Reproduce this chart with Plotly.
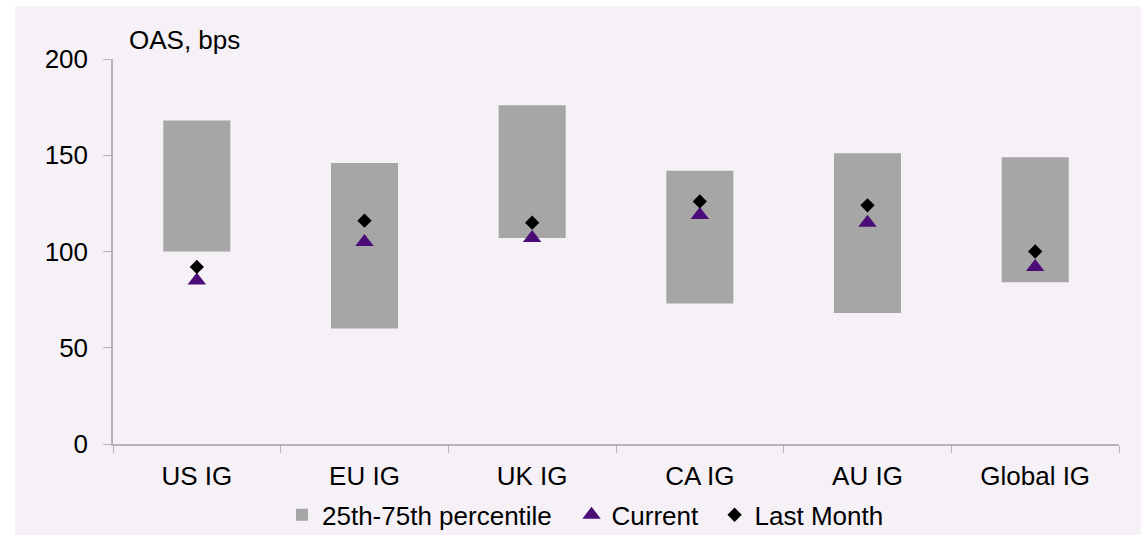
import plotly.graph_objects as go

# Investment-grade credit spreads by region (OAS, bps)
categories = ["US IG", "EU IG", "UK IG", "CA IG", "AU IG", "Global IG"]
pct25 = [100, 60, 107, 73, 68, 84]
pct75 = [168, 146, 176, 142, 151, 149]
current = [85, 105, 107, 119, 115, 92]
last_month = [92, 116, 115, 126, 124, 100]

y_ticks = [0, 50, 100, 150, 200]

FONT = "Liberation Sans, Arial, sans-serif"
FS = 26
PANEL = "#f5f1f7"
AXIS = "#b4b4b4"

fig = go.Figure()

# Floating bar spanning the interquartile range
fig.add_trace(go.Bar(
    x=categories,
    base=pct25,
    y=[hi - lo for lo, hi in zip(pct25, pct75)],
    width=0.4,
    marker=dict(color="#a6a6a6", line=dict(width=0)),
    name="25th-75th percentile",
    legend="legend",
    hoverinfo="skip",
))

fig.add_trace(go.Scatter(
    x=categories, y=current, mode="markers",
    marker=dict(symbol="triangle-up", size=16, color="#4b0c78"),
    name="Current",
    legend="legend2",
))

fig.add_trace(go.Scatter(
    x=categories, y=last_month, mode="markers",
    marker=dict(symbol="diamond", size=11, color="#000000"),
    name="Last Month",
    legend="legend3",
))

# Lavender panel behind the chart, leaving a thin white edge at left and top
fig.add_shape(
    type="rect", xref="paper", yref="paper",
    x0=-0.0974, x1=1.0219, y0=-0.2364, y1=1.1377,
    fillcolor=PANEL, line=dict(width=0), layer="below",
)

fig.add_annotation(
    text="OAS, bps", xref="paper", yref="paper",
    x=0.0139, y=1.049, xanchor="left", yanchor="middle",
    showarrow=False, font=dict(family=FONT, size=FS, color="#000000"),
)

legend_common = dict(
    orientation="h", y=-0.184, yanchor="middle", xanchor="left",
    bgcolor="rgba(0,0,0,0)", font=dict(family=FONT, size=FS, color="#000000"),
    itemwidth=30,
)

fig.update_layout(
    width=1142, height=535,
    margin=dict(l=113, r=23, t=59, b=91, autoexpand=False),
    paper_bgcolor="#ffffff",
    plot_bgcolor="rgba(0,0,0,0)",
    font=dict(family=FONT, size=FS, color="#000000"),
    showlegend=True,
    legend=dict(x=0.168, **legend_common),
    legend2=dict(x=0.4558, **legend_common),
    legend3=dict(x=0.598, **legend_common),
    bargap=0.6,
)

fig.update_xaxes(
    showline=True, linecolor=AXIS, linewidth=1.5,
    ticks="outside", tickson="boundaries", ticklen=7, tickcolor=AXIS,
    ticklabelstandoff=8,
    showgrid=False, zeroline=False,
)
fig.update_yaxes(
    range=[0, 200], tickvals=y_ticks, showline=True, linecolor=AXIS, linewidth=1.5,
    ticks="outside", ticklen=8, tickcolor=AXIS, ticklabelstandoff=10,
    showgrid=False, zeroline=False,
)

fig.write_html("out.html")
